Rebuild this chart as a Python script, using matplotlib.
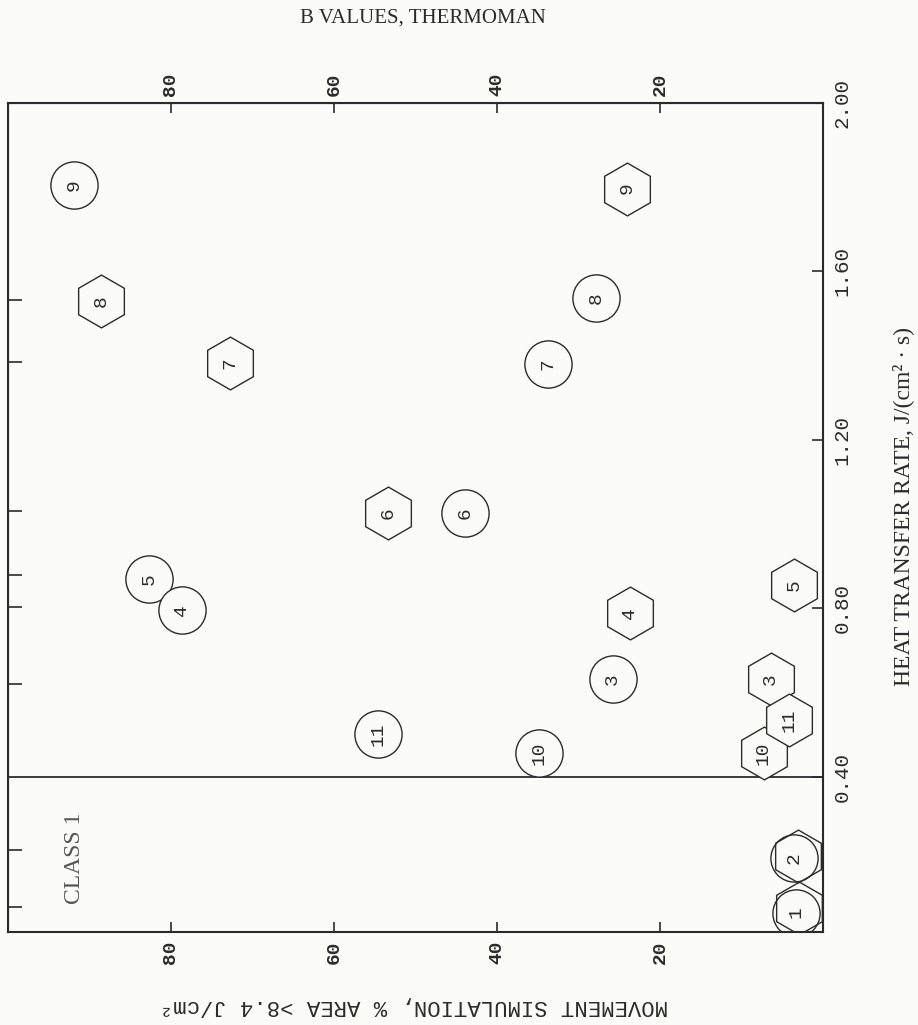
import matplotlib
matplotlib.use("Agg")
import matplotlib.pyplot as plt

# ---------------- data ----------------
labels = ["1", "2", "3", "4", "5", "6", "7", "8", "9", "10", "11"]
# circles: movement simulation, % area > 8.4 J/cm2
circle_pct = [3.3, 3.6, 25.8, 78.7, 82.7, 43.9, 33.7, 27.8, 91.9, 34.8, 54.6]
circle_ht = [0.078, 0.207, 0.633, 0.796, 0.870, 1.027, 1.380, 1.536, 1.805, 0.456, 0.501]
# hexagons: B values, Thermoman
hex_b = [2.9, 3.1, 6.4, 23.7, 3.5, 53.4, 72.7, 88.6, 24.0, 7.3, 4.2]
hex_ht = [0.088, 0.213, 0.633, 0.789, 0.856, 1.027, 1.383, 1.530, 1.797, 0.456, 0.535]
# exposure marks on the opposite edge
exposure_ticks = [0.091, 0.227, 0.621, 0.804, 0.880, 1.031, 1.384, 1.532]
pct_ticks = [20, 40, 60, 80]
ht_ticks = [0.40, 0.80, 1.20, 1.60, 2.00]
ht_tick_labels = ["0.40", "0.80", "1.20", "1.60", "2.00"]
class_boundary = 0.40

BG = "#fbfbf7"
INK = "#2b2b2b"

fig = plt.figure(figsize=(9.18, 10.25), dpi=100, facecolor=BG)
ax = fig.add_axes([8 / 918, 1 - 932 / 1025, 815 / 918, 829 / 1025])
ax.set_facecolor(BG)
ax.set_xlim(100, 0)
ax.set_ylim(0.032, 2.00)

for s in ax.spines.values():
    s.set_linewidth(1.5)
    s.set_color(INK)

ax.axhline(class_boundary, color=INK, lw=1.3, zorder=2)

mono = "Liberation Mono"


def coincide(i):
    return abs(hex_b[i] - circle_pct[i]) < 2 and abs(hex_ht[i] - circle_ht[i]) < 0.03


# hexagons (drawn in order)
for i in range(len(labels)):
    same = coincide(i)
    ax.plot(hex_b[i], hex_ht[i], marker="h", ms=38,
            mfc="none" if same else BG, mec=INK,
            mew=1.0, ls="none", zorder=3 + i * 0.01)
    if not same:
        ax.text(hex_b[i], hex_ht[i], labels[i], rotation=90, ha="center",
                va="center", fontsize=14, family=mono, color=INK,
                zorder=3.5 + i * 0.01)

# circles (drawn in reverse order)
for i in reversed(range(len(labels))):
    same = coincide(i)
    z = 4 + (len(labels) - i) * 0.01
    ax.plot(circle_pct[i], circle_ht[i], marker="o", ms=34,
            mfc="none" if same else BG, mec=INK,
            mew=1.0, ls="none", zorder=z)
    ax.text(circle_pct[i], circle_ht[i], labels[i], rotation=90, ha="center",
            va="center", fontsize=14, family=mono, color=INK, zorder=z + 0.005)

# heat-transfer axis on the right
ax.set_yticks(ht_ticks)
ax.set_yticklabels(ht_tick_labels, rotation=90, family=mono, fontsize=15,
                   color=INK, va="center")
ax.tick_params(axis="y", left=False, right=True, labelleft=False,
               labelright=True, direction="in", length=8, width=1.2,
               colors=INK, pad=7)

# percent axis on the bottom
ax.set_xticks(pct_ticks)
ax.set_xticklabels([str(t) for t in pct_ticks], rotation=90, family=mono,
                   fontsize=14, fontweight="bold", color=INK)
ax.tick_params(axis="x", direction="in", length=7, width=1.2, colors=INK,
               pad=6)

# percent axis on the top
top = ax.secondary_xaxis("top")
top.set_xticks(pct_ticks)
top.set_xticklabels([str(t) for t in pct_ticks], rotation=90, family=mono,
                    fontsize=14, fontweight="bold", color=INK)
top.tick_params(axis="x", direction="in", length=7, width=1.2, colors=INK,
                pad=5)

# exposure marks on the left
left = ax.secondary_yaxis("left")
left.set_yticks(exposure_ticks)
left.set_yticklabels([])
left.tick_params(axis="y", direction="in", length=10, width=1.2, colors=INK)

# texts
serif = "Liberation Serif"
fig.text(423 / 918, 1 - 18 / 1025, "B VALUES, THERMOMAN", ha="center",
         va="center", family=serif, fontsize=15, color=INK)
fig.text(903 / 918, 1 - 507 / 1025, "HEAT TRANSFER RATE, J/(cm² · s)",
         rotation=90, ha="center", va="center", family=serif, fontsize=17,
         color=INK)
fig.text(414 / 918, 1 - 1005 / 1025,
         "MOVEMENT SIMULATION, % AREA >8.4 J/cm²", rotation=180,
         ha="center", va="center", family=mono, fontsize=16, color=INK)
fig.text(75 / 918, 1 - 858 / 1025, "CLASS 1", rotation=90, ha="center",
         va="center", family=serif, fontsize=17, color="#555555")

fig.savefig("out.png", dpi=100, facecolor=BG)
